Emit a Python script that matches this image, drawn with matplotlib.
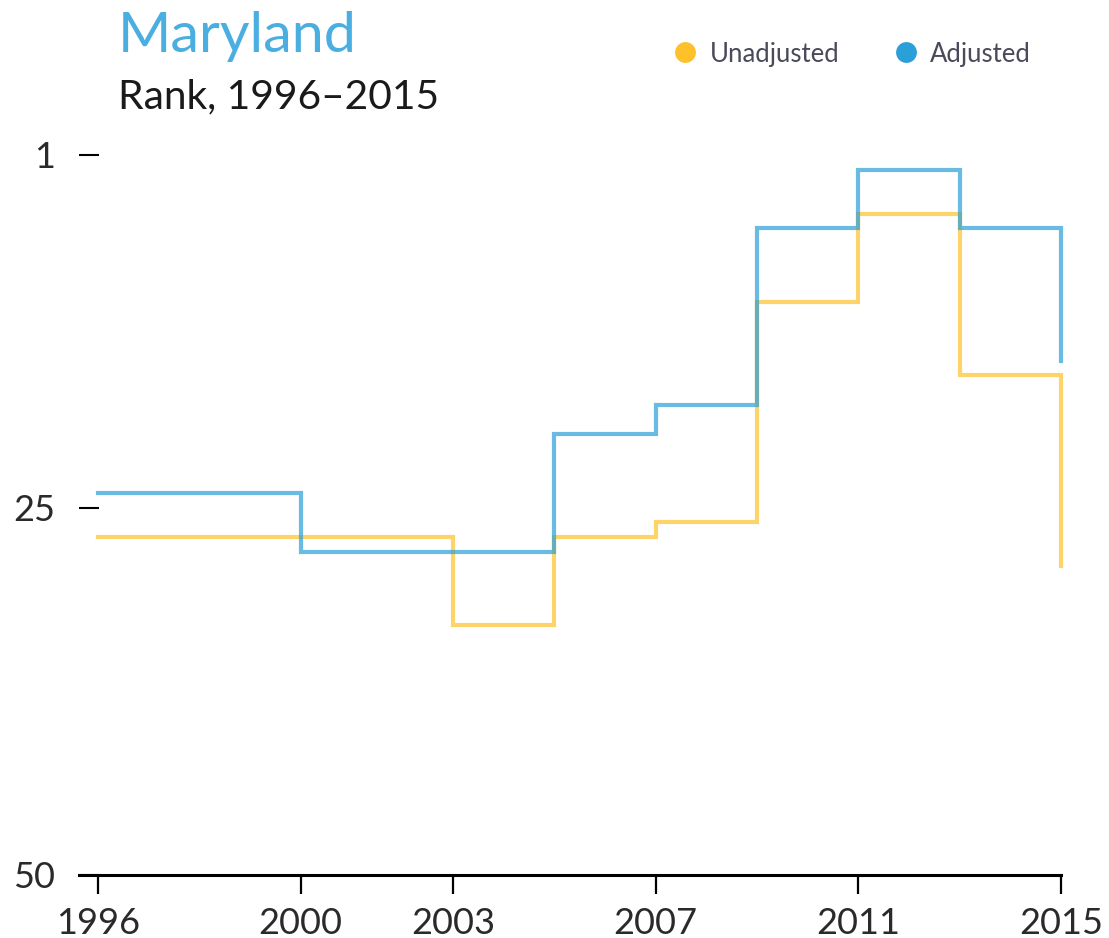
import matplotlib
matplotlib.use('Agg')
import matplotlib.pyplot as plt
from matplotlib.lines import Line2D

# 연도별 순위 데이터 (1996 ~ 2015)
years = [1996, 1997, 1998, 1999, 2000, 2001, 2002, 2003, 2004, 2005,
         2006, 2007, 2008, 2009, 2010, 2011, 2012, 2013, 2014, 2015]
unadjusted = [27, 27, 27, 27, 27, 27, 27, 33, 33, 27,
              27, 26, 26, 11, 11, 5, 5, 16, 16, 29]
adjusted = [24, 24, 24, 24, 28, 28, 28, 28, 28, 20,
            20, 18, 18, 6, 6, 2, 2, 6, 6, 15]

xticks = [1996, 2000, 2003, 2007, 2011, 2015]
yticks = [1, 25, 50]

orange = '#fec12a'
blue = '#2a9fd8'

plt.rcParams['font.family'] = ['Lato', 'DejaVu Sans']

W, H = 1109, 938
fig = plt.figure(figsize=(W / 100, H / 100), dpi=100)
ax = fig.add_axes([79 / W, 1 - 875 / H, (1061 - 79) / W, (875 - 155) / H])

ax.plot(years, unadjusted, drawstyle='steps-post', color=orange, lw=3.0,
        alpha=0.7, clip_on=False, solid_joinstyle='miter')
ax.plot(years, adjusted, drawstyle='steps-post', color=blue, lw=3.0,
        alpha=0.7, clip_on=False, solid_joinstyle='miter')

ax.set_xlim(1996 - 19 / 50.7, 2015)
ax.set_ylim(50, 1)

ax.set_xticks(xticks)
ax.set_xticklabels([str(y) for y in xticks])
ax.set_yticks(yticks)
ax.set_yticklabels([str(y) for y in yticks])

for s in ['top', 'right', 'left']:
    ax.spines[s].set_visible(False)
ax.spines['bottom'].set_linewidth(2.2)
ax.spines['bottom'].set_color('black')

ax.tick_params(axis='x', direction='out', length=14, width=1.6, pad=9,
               labelsize=26, labelcolor='#2a2a2a')
ax.tick_params(axis='y', direction='in', length=14.4, width=1.5, pad=17,
               labelsize=26, labelcolor='#2a2a2a')

# 제목
fig.text(118 / W, 1 - 52 / H, 'Maryland', fontsize=41.4, color='#4aaee0',
         va='baseline', ha='left')
fig.text(118 / W, 1 - 108 / H, 'Rank, 1996\u20132015', fontsize=29.3,
         color='#1a1a1a', va='baseline', ha='left')

# 범례
for xd, xt, col, lab in [(685, 710, orange, 'Unadjusted'),
                         (906, 930, blue, 'Adjusted')]:
    fig.add_artist(Line2D([xd / W], [1 - 52 / H], marker='o', markersize=15,
                          color=col, markeredgewidth=0,
                          transform=fig.transFigure))
    fig.text(xt / W, 1 - 62 / H, lab, fontsize=18.5, color='#4a4a5a',
             va='baseline', ha='left')

fig.savefig('out.png', dpi=100)
